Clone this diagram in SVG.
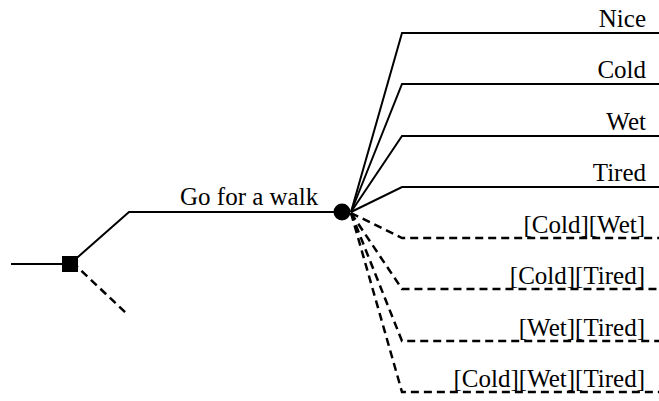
<svg xmlns="http://www.w3.org/2000/svg" width="659" height="401" viewBox="0 0 659 401">
<style>
.s{fill:none;stroke:#000;stroke-width:2}
.d{fill:none;stroke:#000;stroke-width:2.5;stroke-dasharray:8,5}
text{font-family:"Liberation Serif","Times New Roman",serif;font-size:25px;fill:#000}
.r{text-anchor:end}
</style>
<rect width="659" height="401" fill="#fff"/>
<g id="connectors">
<path class="s" d="M11,264H70"/>
<path class="s" d="M70,264L129,212H342"/>
<path class="d" d="M72,262L126,313"/>
<path class="s" d="M351,212L402,33H659"/>
<path class="s" d="M351,212L402,84H659"/>
<path class="s" d="M351,212L402,136H659"/>
<path class="s" d="M351,212L402,187H659"/>
<path class="d" d="M351,213L402,238H659"/>
<path class="d" d="M351,213L402,289H659"/>
<path class="d" d="M351,213L402,341H659"/>
<path class="d" d="M351,213L402,392H659"/>
</g>
<g id="decision"><rect x="62" y="256" width="16" height="16" fill="#000"/></g>
<g id="chance"><circle cx="342" cy="212" r="8.5" fill="#000"/></g>
<g id="labels">
<text x="180" y="205">Go for a walk</text>
<text class="r" x="646" y="27">Nice</text>
<text class="r" x="646" y="78">Cold</text>
<text class="r" x="646" y="130">Wet</text>
<text class="r" x="646" y="181">Tired</text>
<text class="r" x="645" y="233">[Cold][Wet]</text>
<text class="r" x="645" y="284">[Cold][Tired]</text>
<text class="r" x="645" y="336">[Wet][Tired]</text>
<text class="r" x="645" y="387">[Cold][Wet][Tired]</text>
</g>
</svg>
